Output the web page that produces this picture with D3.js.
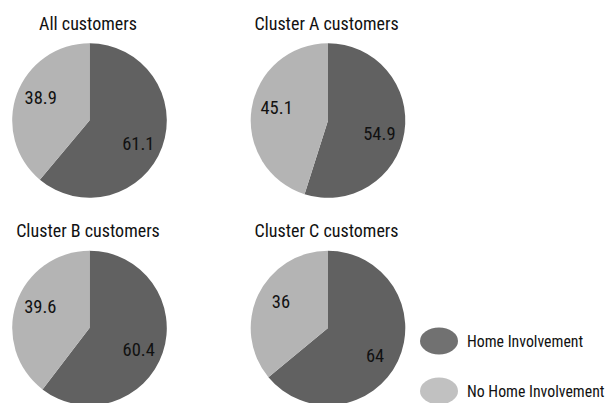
<!DOCTYPE html>
<html>
<head>
<meta charset="utf-8">
<script src="https://cdn.jsdelivr.net/npm/d3@7"></script>
<style>
  html, body { margin: 0; padding: 0; background: #fff; }
  svg { display: block; }
  text { font-family: "Liberation Sans Narrow", "Arial Narrow", "Roboto Condensed", sans-serif; fill: #111; }
</style>
</head>
<body>
<svg id="chart" width="606" height="403"></svg>
<script>
// Share of customers with / without home involvement, per group (percent)
const groups = ["All customers", "Cluster A customers", "Cluster B customers", "Cluster C customers"];
const homeInvolvement = [61.1, 54.9, 60.4, 64];
const noHomeInvolvement = [38.9, 45.1, 39.6, 36];
const seriesNames = ["Home Involvement", "No Home Involvement"];

const sliceColors = ["#616161", "#b4b4b4"];
const legendColors = ["#717171", "#c1c1c1"];

const svg = d3.select("#chart");

// 2x2 grid of pie centres
const col = d3.scaleOrdinal().domain([0, 1]).range([89.5, 328]);
const row = d3.scaleOrdinal().domain([0, 1]).range([120.5, 328]);
const R = 77.3;

const pie = d3.pie().sort(null).value(d => d.value);
const arc = d3.arc().innerRadius(0).outerRadius(R);
const labelArc = d3.arc().innerRadius(52).outerRadius(52);

groups.forEach((name, i) => {
  const cx = col(i % 2), cy = row(Math.floor(i / 2));
  const data = [
    { key: seriesNames[0], value: homeInvolvement[i] },
    { key: seriesNames[1], value: noHomeInvolvement[i] }
  ];
  const g = svg.append("g").attr("transform", `translate(${cx},${cy})`);

  g.selectAll("path.slice")
    .data(pie(data))
    .join("path")
    .attr("class", "slice")
    .attr("d", arc)
    .attr("fill", (d, j) => sliceColors[j]);

  g.selectAll("text.val")
    .data(pie(data))
    .join("text")
    .attr("class", "val")
    .attr("x", d => labelArc.centroid(d)[0])
    .attr("y", d => {
      const y = labelArc.centroid(d)[1];
      return y + Math.sign(y) * 5;
    })
    .attr("dy", "0.36em")
    .attr("text-anchor", "middle")
    .style("font-size", "18.5px")
    .text(d => d.data.value);

  svg.append("text")
    .attr("x", cx - 1.5)
    .attr("y", cy - 91)
    .attr("text-anchor", "middle")
    .style("font-size", "18px")
    .text(name);
});

// Legend
const legend = svg.append("g");
const ly = d3.scalePoint().domain(seriesNames).range([341, 391]);
seriesNames.forEach((s, j) => {
  legend.append("ellipse")
    .attr("cx", 439)
    .attr("cy", ly(s))
    .attr("rx", 19)
    .attr("ry", 13.5)
    .attr("fill", legendColors[j]);
  legend.append("text")
    .attr("x", 467)
    .attr("y", ly(s))
    .attr("dy", "0.36em")
    .style("font-size", "15.8px")
    .text(s);
});
</script>
</body>
</html>
